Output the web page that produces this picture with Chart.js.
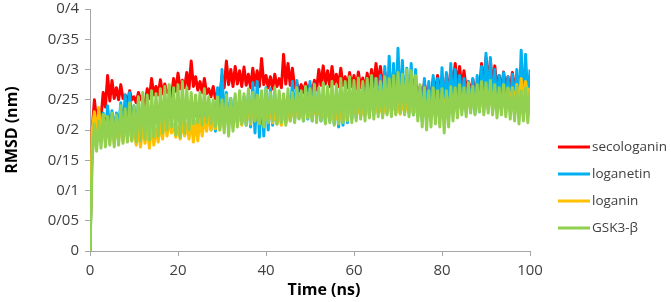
<!DOCTYPE html>
<html>
<head>
<meta charset="utf-8">
<script src="https://cdn.jsdelivr.net/npm/chart.js@4"></script>
<style>
  html, body { margin: 0; padding: 0; background: #fff; }
  #wrap { width: 671px; height: 302px; }
</style>
</head>
<body>
<div id="wrap"><canvas id="chart1" width="671" height="302"></canvas></div>
<script>
// RMSD, one sample every 0.5 ns (0 .. 100 ns)
const timeStepNs = 0.5;
const seriesNames = ["secologanin", "loganetin", "loganin", "GSK3-\u03b2"];
const seriesColors = ["#ff0000", "#00b0f0", "#ffc000", "#92d050"];
const yTickValues = [0, 0.05, 0.1, 0.15, 0.2, 0.25, 0.3, 0.35, 0.4];
const xTickValues = [0, 20, 40, 60, 80, 100];

const secologanin = [
  0, 0.2, 0.25, 0.215, 0.235, 0.22, 0.262, 0.238, 0.29, 0.248,
  0.282, 0.252, 0.27, 0.25, 0.275, 0.252, 0.258, 0.245, 0.265, 0.25,
  0.255, 0.245, 0.262, 0.25, 0.25, 0.242, 0.268, 0.252, 0.285, 0.258,
  0.272, 0.258, 0.283, 0.26, 0.276, 0.262, 0.262, 0.255, 0.285, 0.264,
  0.294, 0.268, 0.282, 0.27, 0.295, 0.268, 0.314, 0.272, 0.288, 0.266,
  0.28, 0.262, 0.285, 0.26, 0.268, 0.255, 0.272, 0.252, 0.262, 0.255,
  0.29, 0.27, 0.314, 0.275, 0.3, 0.272, 0.305, 0.276, 0.298, 0.272,
  0.304, 0.274, 0.292, 0.27, 0.302, 0.274, 0.298, 0.272, 0.318, 0.275,
  0.29, 0.27, 0.288, 0.268, 0.292, 0.272, 0.285, 0.27, 0.325, 0.276,
  0.31, 0.274, 0.302, 0.27, 0.278, 0.264, 0.275, 0.262, 0.278, 0.265,
  0.275, 0.262, 0.282, 0.266, 0.3, 0.274, 0.306, 0.276, 0.298, 0.272,
  0.305, 0.276, 0.292, 0.272, 0.302, 0.274, 0.288, 0.27, 0.295, 0.272,
  0.29, 0.268, 0.296, 0.27, 0.286, 0.265, 0.294, 0.27, 0.3, 0.272,
  0.31, 0.275, 0.305, 0.272, 0.296, 0.27, 0.29, 0.268, 0.298, 0.27,
  0.288, 0.268, 0.292, 0.27, 0.285, 0.266, 0.29, 0.265, 0.276, 0.258,
  0.272, 0.255, 0.278, 0.258, 0.27, 0.255, 0.285, 0.262, 0.29, 0.265,
  0.28, 0.262, 0.288, 0.265, 0.3, 0.27, 0.31, 0.272, 0.305, 0.27,
  0.298, 0.268, 0.28, 0.26, 0.284, 0.262, 0.278, 0.262, 0.31, 0.272,
  0.32, 0.275, 0.315, 0.272, 0.306, 0.27, 0.29, 0.265, 0.296, 0.268,
  0.288, 0.265, 0.295, 0.268, 0.29, 0.265, 0.298, 0.27, 0.302, 0.268,
  0.29
];

const loganetin = [
  0, 0.18, 0.225, 0.19, 0.232, 0.195, 0.228, 0.19, 0.24, 0.2,
  0.232, 0.198, 0.228, 0.205, 0.245, 0.2, 0.258, 0.205, 0.262, 0.21,
  0.24, 0.205, 0.245, 0.21, 0.238, 0.208, 0.245, 0.212, 0.24, 0.21,
  0.245, 0.215, 0.24, 0.21, 0.248, 0.215, 0.245, 0.212, 0.25, 0.218,
  0.248, 0.215, 0.252, 0.22, 0.245, 0.215, 0.25, 0.218, 0.245, 0.21,
  0.248, 0.205, 0.242, 0.208, 0.25, 0.2, 0.245, 0.198, 0.27, 0.205,
  0.3, 0.21, 0.262, 0.212, 0.252, 0.215, 0.255, 0.21, 0.25, 0.212,
  0.255, 0.208, 0.26, 0.205, 0.278, 0.195, 0.28, 0.188, 0.262, 0.19,
  0.27, 0.2, 0.268, 0.208, 0.258, 0.21, 0.25, 0.215, 0.255, 0.212,
  0.252, 0.218, 0.28, 0.215, 0.282, 0.22, 0.26, 0.215, 0.27, 0.218,
  0.28, 0.215, 0.276, 0.22, 0.26, 0.215, 0.255, 0.212, 0.258, 0.215,
  0.252, 0.21, 0.255, 0.205, 0.26, 0.208, 0.258, 0.212, 0.265, 0.218,
  0.27, 0.22, 0.265, 0.222, 0.275, 0.225, 0.27, 0.222, 0.28, 0.225,
  0.285, 0.228, 0.29, 0.225, 0.305, 0.228, 0.322, 0.23, 0.31, 0.228,
  0.335, 0.232, 0.315, 0.23, 0.302, 0.228, 0.31, 0.225, 0.3, 0.222,
  0.27, 0.215, 0.285, 0.218, 0.28, 0.22, 0.29, 0.222, 0.285, 0.225,
  0.303, 0.228, 0.295, 0.225, 0.31, 0.228, 0.3, 0.23, 0.29, 0.232,
  0.285, 0.23, 0.28, 0.232, 0.285, 0.228, 0.29, 0.23, 0.305, 0.232,
  0.327, 0.235, 0.32, 0.232, 0.3, 0.235, 0.29, 0.232, 0.295, 0.235,
  0.288, 0.232, 0.292, 0.235, 0.3, 0.235, 0.332, 0.24, 0.325, 0.238,
  0.3
];

const loganin = [
  0, 0.2, 0.23, 0.19, 0.237, 0.185, 0.225, 0.182, 0.222, 0.18,
  0.215, 0.178, 0.22, 0.182, 0.212, 0.18, 0.218, 0.185, 0.21, 0.182,
  0.205, 0.175, 0.2, 0.172, 0.21, 0.178, 0.205, 0.17, 0.21, 0.175,
  0.202, 0.18, 0.212, 0.185, 0.22, 0.19, 0.215, 0.195, 0.21, 0.188,
  0.205, 0.185, 0.215, 0.19, 0.21, 0.185, 0.218, 0.18, 0.215, 0.182,
  0.22, 0.19, 0.222, 0.198, 0.225, 0.2, 0.235, 0.202, 0.232, 0.2,
  0.238, 0.205, 0.245, 0.208, 0.24, 0.205, 0.235, 0.21, 0.232, 0.208,
  0.24, 0.212, 0.245, 0.21, 0.252, 0.215, 0.255, 0.212, 0.248, 0.21,
  0.24, 0.215, 0.235, 0.212, 0.23, 0.21, 0.228, 0.208, 0.232, 0.212,
  0.238, 0.215, 0.242, 0.218, 0.245, 0.22, 0.248, 0.222, 0.25, 0.22,
  0.252, 0.218, 0.245, 0.222, 0.24, 0.22, 0.235, 0.218, 0.232, 0.22,
  0.23, 0.215, 0.228, 0.212, 0.232, 0.215, 0.235, 0.218, 0.24, 0.222,
  0.238, 0.225, 0.242, 0.222, 0.235, 0.225, 0.24, 0.228, 0.245, 0.23,
  0.242, 0.228, 0.238, 0.225, 0.24, 0.228, 0.248, 0.23, 0.242, 0.228,
  0.245, 0.226, 0.25, 0.228, 0.245, 0.23, 0.238, 0.228, 0.235, 0.225,
  0.24, 0.228, 0.245, 0.23, 0.25, 0.232, 0.255, 0.235, 0.252, 0.232,
  0.258, 0.235, 0.255, 0.232, 0.26, 0.235, 0.262, 0.238, 0.258, 0.235,
  0.255, 0.232, 0.258, 0.235, 0.26, 0.238, 0.262, 0.235, 0.268, 0.24,
  0.27, 0.238, 0.265, 0.235, 0.26, 0.238, 0.262, 0.24, 0.265, 0.238,
  0.268, 0.242, 0.27, 0.24, 0.275, 0.245, 0.285, 0.25, 0.28, 0.255,
  0.27
];

const gsk3b = [
  0, 0.15, 0.21, 0.165, 0.215, 0.17, 0.225, 0.172, 0.222, 0.175,
  0.228, 0.172, 0.225, 0.175, 0.24, 0.178, 0.235, 0.18, 0.245, 0.182,
  0.24, 0.18, 0.255, 0.182, 0.262, 0.185, 0.258, 0.183, 0.265, 0.188,
  0.26, 0.19, 0.268, 0.195, 0.272, 0.2, 0.275, 0.205, 0.27, 0.192,
  0.275, 0.188, 0.28, 0.195, 0.27, 0.2, 0.262, 0.21, 0.258, 0.212,
  0.262, 0.208, 0.268, 0.212, 0.255, 0.21, 0.25, 0.205, 0.255, 0.2,
  0.25, 0.195, 0.258, 0.19, 0.252, 0.198, 0.26, 0.205, 0.265, 0.21,
  0.26, 0.208, 0.268, 0.212, 0.262, 0.215, 0.258, 0.21, 0.265, 0.205,
  0.268, 0.212, 0.262, 0.215, 0.27, 0.21, 0.265, 0.212, 0.26, 0.208,
  0.268, 0.215, 0.262, 0.212, 0.27, 0.218, 0.265, 0.215, 0.272, 0.22,
  0.268, 0.215, 0.275, 0.212, 0.27, 0.215, 0.278, 0.21, 0.272, 0.212,
  0.28, 0.208, 0.275, 0.21, 0.285, 0.212, 0.28, 0.215, 0.288, 0.212,
  0.282, 0.215, 0.286, 0.218, 0.28, 0.215, 0.285, 0.22, 0.29, 0.218,
  0.285, 0.222, 0.28, 0.22, 0.288, 0.225, 0.285, 0.222, 0.29, 0.225,
  0.295, 0.228, 0.292, 0.225, 0.3, 0.222, 0.298, 0.225, 0.29, 0.215,
  0.275, 0.205, 0.27, 0.2, 0.265, 0.205, 0.27, 0.21, 0.265, 0.205,
  0.268, 0.195, 0.265, 0.205, 0.272, 0.215, 0.27, 0.22, 0.275, 0.225,
  0.27, 0.222, 0.278, 0.228, 0.272, 0.225, 0.275, 0.23, 0.28, 0.225,
  0.278, 0.228, 0.282, 0.225, 0.275, 0.22, 0.27, 0.225, 0.275, 0.222,
  0.27, 0.218, 0.268, 0.215, 0.272, 0.21, 0.265, 0.215, 0.27, 0.212,
  0.265
];

const seriesValues = [secologanin, loganetin, loganin, gsk3b];

function toPoints(values) {
  return values.map((v, i) => ({ x: i * timeStepNs, y: v }));
}

// legend + x title drawn by hand (Excel puts them where Chart.js won't)
const sideLegend = {
  id: "sideLegend",
  afterDraw(chart) {
    const ctx = chart.ctx;
    ctx.save();
    ctx.font = "13.5px 'Open Sans'";
    ctx.fillStyle = "#404040";
    ctx.textBaseline = "middle";
    chart.data.datasets.forEach((ds, i) => {
      const y = 147 + i * 27;
      ctx.strokeStyle = ds.borderColor;
      ctx.lineWidth = 3;
      ctx.beginPath();
      ctx.moveTo(558, y);
      ctx.lineTo(590, y);
      ctx.stroke();
      ctx.fillText(ds.label, 592, y);
    });
    ctx.font = "bold 16px 'Open Sans'";
    ctx.fillStyle = "#000";
    ctx.textAlign = "center";
    ctx.fillText("Time (ns)", 324, 290);
    ctx.restore();
  }
};

const axisGrey = "#a6a6a6";
const ctx = document.getElementById("chart1").getContext("2d");
const myChart = new Chart(ctx, {
  type: "line",
  data: {
    datasets: seriesNames.map((name, i) => ({
      label: name,
      data: toPoints(seriesValues[i]),
      borderColor: seriesColors[i],
      backgroundColor: seriesColors[i],
      borderWidth: 3,
      borderJoinStyle: "round",
      pointRadius: 0,
      tension: 0,
      order: seriesNames.length - i   // last series painted on top, like Excel
    }))
  },
  options: {
    responsive: false,
    animation: false,
    layout: { padding: { top: 0, right: 141, left: 0, bottom: 0 } },
    plugins: {
      legend: { display: false },
      tooltip: { enabled: false }
    },
    scales: {
      x: {
        type: "linear",
        min: 0,
        max: 100,
        afterBuildTicks: (s) => { s.ticks = xTickValues.map(v => ({ value: v })); },
        afterFit: (s) => { s.height = 51; s.paddingLeft = 0; },
        grid: { drawOnChartArea: false, color: axisGrey, tickLength: 5 },
        border: { color: axisGrey },
        ticks: {
          color: "#404040",
          font: { family: "'Open Sans'", size: 15 },
          padding: 6,
          maxRotation: 0
        }
      },
      y: {
        min: 0,
        max: 0.4,
        afterBuildTicks: (s) => { s.ticks = yTickValues.map(v => ({ value: v })); },
        afterFit: (s) => { s.width = 90; s.paddingTop = 9; s.paddingBottom = 0; },
        grid: { drawOnChartArea: false, color: axisGrey, tickLength: 5 },
        border: { color: axisGrey },
        ticks: {
          color: "#404040",
          font: { family: "'Open Sans'", size: 15 },
          padding: 6,
          callback: (v) => v === 0 ? "0" : String(+v.toFixed(2)).replace(".", "/")
        },
        title: {
          display: true,
          text: "RMSD (nm)",
          color: "#000",
          font: { family: "'Open Sans'", size: 16, weight: "bold" },
          padding: { top: 3, bottom: 0 }
        }
      }
    }
  },
  plugins: [sideLegend]
});
</script>
</body>
</html>
